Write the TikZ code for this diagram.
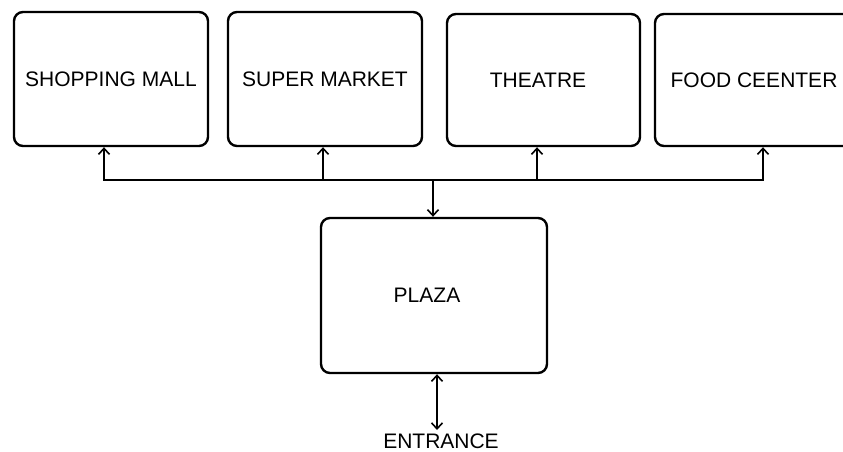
\documentclass[tikz,border=0pt]{standalone}
\usepackage{fontspec}
\setmainfont{Liberation Sans}
\usetikzlibrary{arrows.meta,calc}
\begin{document}
\begin{tikzpicture}[x=1pt,y=-1pt,
  place/.style={draw, line width=2.4pt, rounded corners=9pt, inner sep=0pt,
    font=\fontsize{21}{24}\selectfont},
  conn/.style={line width=1.6pt, -{Straight Barb[length=6pt,width=11pt,line width=1.6pt]}},
  conn2/.style={line width=1.6pt, {Straight Barb[length=6pt,width=11pt,line width=1.6pt]}-{Straight Barb[length=6pt,width=11pt,line width=1.6pt]}}]
\useasboundingbox (0,0) rectangle (843,452);
\begin{scope}
\clip (0,0) rectangle (843,452);
\node[place, minimum width=194pt, minimum height=134pt] (b1) at (111,79) {SHOPPING MALL};
\node[place, minimum width=194pt, minimum height=134pt] (b2) at (325,79) {SUPER MARKET};
\node[place, minimum width=193pt, minimum height=132pt] (b3) at (543.5,80) {\hspace*{-11pt}THEATRE};
\node[place, minimum width=198pt, minimum height=132pt] (b4) at (754,80) {FOOD CEENTER};
\node[place, minimum width=226pt, minimum height=155pt] (pz) at (434,295.5) {\hspace*{-14pt}PLAZA};
\end{scope}
\node[inner sep=0pt, font=\fontsize{21}{24}\selectfont] (ent) at (441,441) {ENTRANCE};
\coordinate (j) at (433,180);
\coordinate (e) at (437,430);
\draw[conn] (j) -| ([xshift=-7pt]b1.south);
\draw[conn] (j) -| ([xshift=-2pt]b2.south);
\draw[conn] (j) -| ([xshift=-6.5pt]b3.south);
\draw[conn] (j) -| ([xshift=9pt]b4.south);
\draw[conn] (j) -- (pz.north -| j);
\draw[conn2] (pz.south -| e) -- (e);
\end{tikzpicture}
\end{document}
